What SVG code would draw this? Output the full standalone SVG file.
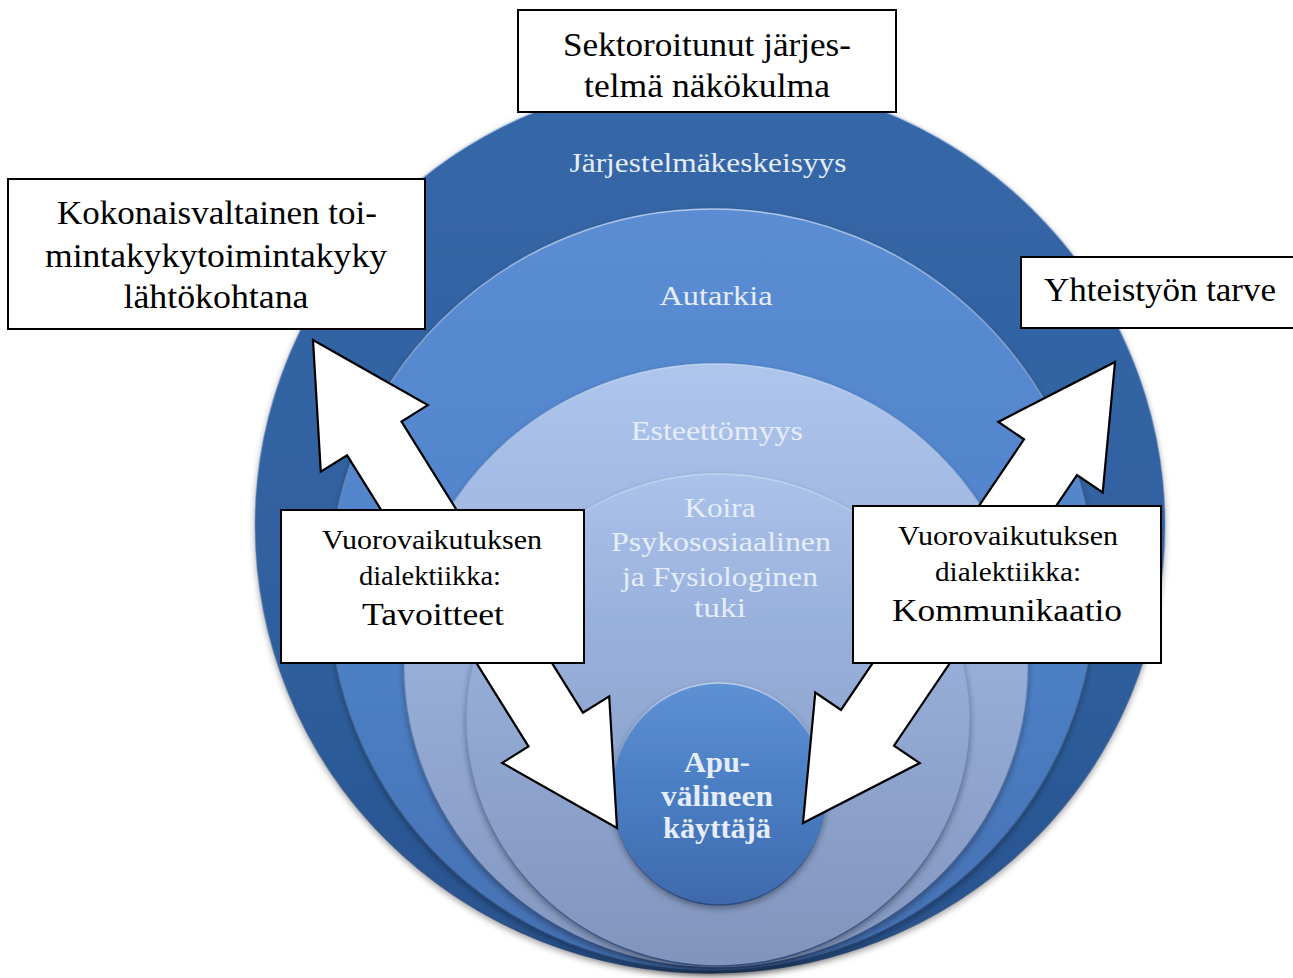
<svg xmlns="http://www.w3.org/2000/svg" width="1293" height="978" viewBox="0 0 1293 978">
<style>
.box{fill:#ffffff;stroke:#000000;stroke-width:2}
.bt{font-family:"Liberation Serif","DejaVu Serif",serif;fill:#000000;text-anchor:middle}
.ct{font-family:"Liberation Serif","DejaVu Serif",serif;fill:#E6EDF8;text-anchor:middle}
.arrow{fill:#ffffff;stroke:#000000;stroke-width:2.2;stroke-linejoin:miter}
</style>
<defs>
<linearGradient id="g1" x1="0" y1="0" x2="0" y2="1">
<stop offset="0" stop-color="#3667A8"/><stop offset="0.6" stop-color="#2F609F"/><stop offset="1" stop-color="#28528D"/>
</linearGradient>
<linearGradient id="g2" x1="0" y1="0" x2="0" y2="1">
<stop offset="0" stop-color="#5B8DD3"/><stop offset="0.5" stop-color="#4F83CA"/><stop offset="1" stop-color="#4470B2"/>
</linearGradient>
<linearGradient id="g3" x1="0" y1="0" x2="0" y2="1">
<stop offset="0" stop-color="#AEC5EC"/><stop offset="0.35" stop-color="#9CB5E0"/><stop offset="1" stop-color="#8396BE"/>
</linearGradient>
<linearGradient id="g4" x1="0" y1="0" x2="0" y2="1">
<stop offset="0" stop-color="#ABC2EA"/><stop offset="0.3" stop-color="#98B1DC"/><stop offset="1" stop-color="#8194BC"/>
</linearGradient>
<linearGradient id="g5" x1="0" y1="0" x2="0" y2="1">
<stop offset="0" stop-color="#5E90D4"/><stop offset="0.5" stop-color="#4A7DC3"/><stop offset="1" stop-color="#3E6AAC"/>
</linearGradient>
<linearGradient id="rim" x1="0" y1="0" x2="0" y2="1">
<stop offset="0" stop-color="#C9DAF4" stop-opacity="0.8"/><stop offset="0.45" stop-color="#6D86B0" stop-opacity="0.4"/><stop offset="1" stop-color="#243F6E" stop-opacity="0.8"/>
</linearGradient>
<filter id="sh" x="-10%" y="-10%" width="120%" height="120%">
<feDropShadow dx="0" dy="3" stdDeviation="3" flood-color="#000000" flood-opacity="0.35"/>
</filter>
</defs>

<g id="ring-jarjestelmakeskeisyys">
<ellipse cx="710" cy="525" rx="455" ry="448" fill="url(#g1)" stroke="url(#rim)" stroke-width="1.5" filter="url(#sh)"/>
<text class="ct" x="708" y="172" font-size="28" textLength="277" lengthAdjust="spacingAndGlyphs">Järjestelmäkeskeisyys</text>
</g>
<g id="ring-autarkia">
<ellipse cx="712" cy="590" rx="383" ry="381" fill="url(#g2)" stroke="url(#rim)" stroke-width="1.5" filter="url(#sh)"/>
<text class="ct" x="716" y="305" font-size="28" textLength="113" lengthAdjust="spacingAndGlyphs">Autarkia</text>
</g>
<g id="ring-esteettomyys">
<ellipse cx="716" cy="666" rx="312" ry="302" fill="url(#g3)" stroke="url(#rim)" stroke-width="1.5" filter="url(#sh)"/>
<text class="ct" x="717" y="440" font-size="28" textLength="172" lengthAdjust="spacingAndGlyphs">Esteettömyys</text>
</g>
<g id="ring-koira">
<ellipse cx="718" cy="720" rx="252" ry="246" fill="url(#g4)" stroke="url(#rim)" stroke-width="1.5" filter="url(#sh)"/>
<text class="ct" x="720" y="517" font-size="28" textLength="71" lengthAdjust="spacingAndGlyphs" fill="#DCE5F4">Koira</text>
<text class="ct" x="721" y="551" font-size="28" textLength="220" lengthAdjust="spacingAndGlyphs" fill="#DCE5F4">Psykososiaalinen</text>
<text class="ct" x="720" y="586" font-size="28" textLength="196" lengthAdjust="spacingAndGlyphs" fill="#DCE5F4">ja Fysiologinen</text>
<text class="ct" x="720" y="617" font-size="28" textLength="52" lengthAdjust="spacingAndGlyphs" fill="#DCE5F4">tuki</text>
</g>
<g id="center-apuvalineen-kayttaja">
<ellipse cx="719" cy="794" rx="107" ry="111" fill="url(#g5)" stroke="url(#rim)" stroke-width="1.5" filter="url(#sh)"/>
<text class="ct" x="717" y="772" font-size="30" font-weight="bold" fill="#F4F7FC" textLength="66" lengthAdjust="spacingAndGlyphs">Apu-</text>
<text class="ct" x="717" y="806" font-size="30" font-weight="bold" fill="#F4F7FC" textLength="112" lengthAdjust="spacingAndGlyphs">välineen</text>
<text class="ct" x="717" y="838" font-size="30" font-weight="bold" fill="#F4F7FC" textLength="108" lengthAdjust="spacingAndGlyphs">käyttäjä</text>
</g>

<g id="connectors">
<polygon class="arrow" points="313,340 427.8,405.1 401.5,421.5 582.9,712.7 609.2,696.3 617,828 502.2,762.9 528.5,746.5 347.1,455.3 320.8,471.7"/>
<polygon class="arrow" points="1115,362 1102.7,492.5 1077,475.1 894,745.7 919.7,763.1 803,823 815.3,692.5 841,709.9 1024,439.3 998.3,421.9"/>
</g>

<g id="box-sektoroitunut">
<rect class="box" x="518" y="10" width="378" height="102"/>
<text class="bt" x="707" y="56" font-size="33" textLength="288" lengthAdjust="spacingAndGlyphs">Sektoroitunut järjes-</text>
<text class="bt" x="707" y="97" font-size="33" textLength="246" lengthAdjust="spacingAndGlyphs">telmä näkökulma</text>
</g>
<g id="box-kokonaisvaltainen">
<rect class="box" x="8" y="179" width="417" height="150"/>
<text class="bt" x="217" y="224" font-size="33" textLength="320" lengthAdjust="spacingAndGlyphs">Kokonaisvaltainen toi-</text>
<text class="bt" x="216" y="267" font-size="33" textLength="342" lengthAdjust="spacingAndGlyphs">mintakykytoimintakyky</text>
<text class="bt" x="216" y="308" font-size="33" textLength="185" lengthAdjust="spacingAndGlyphs">lähtökohtana</text>
</g>
<g id="box-yhteistyon-tarve">
<rect class="box" x="1021" y="257" width="290" height="71"/>
<text class="bt" x="1160" y="301" font-size="33" textLength="232" lengthAdjust="spacingAndGlyphs">Yhteistyön tarve</text>
</g>
<g id="box-tavoitteet">
<rect class="box" x="281" y="510" width="303" height="153"/>
<text class="bt" x="432" y="549" font-size="27" textLength="220" lengthAdjust="spacingAndGlyphs">Vuorovaikutuksen</text>
<text class="bt" x="430" y="585" font-size="27" textLength="142" lengthAdjust="spacingAndGlyphs">dialektiikka:</text>
<text class="bt" x="433" y="625" font-size="32" textLength="142" lengthAdjust="spacingAndGlyphs">Tavoitteet</text>
</g>
<g id="box-kommunikaatio">
<rect class="box" x="853" y="506" width="308" height="157"/>
<text class="bt" x="1008" y="545" font-size="27" textLength="220" lengthAdjust="spacingAndGlyphs">Vuorovaikutuksen</text>
<text class="bt" x="1008" y="581" font-size="27" textLength="146" lengthAdjust="spacingAndGlyphs">dialektiikka:</text>
<text class="bt" x="1007" y="621" font-size="32" textLength="230" lengthAdjust="spacingAndGlyphs">Kommunikaatio</text>
</g>
</svg>
